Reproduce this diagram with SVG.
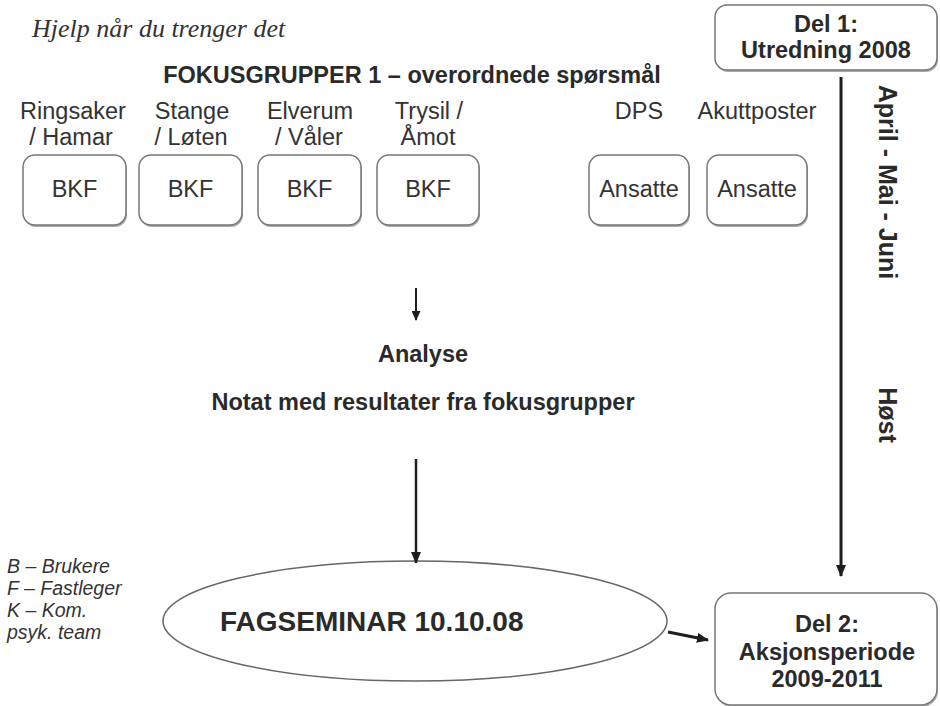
<svg xmlns="http://www.w3.org/2000/svg" width="940" height="706" viewBox="0 0 940 706">
<style>
  text { font-family: "Liberation Sans", Arial, sans-serif; fill: #2a2a2a; }
  .b { font-weight: bold; }
  .lbl { font-size: 23.5px; text-anchor: middle; fill: #333; }
  .hd { font-size: 23.5px; font-weight: bold; text-anchor: middle; }
  .box { fill: #fff; stroke: #777; stroke-width: 1.5; }
  .sh { fill: #aaa; }
  .leg { font-size: 19.5px; font-style: italic; fill: #333; }
  .con { stroke: #1e1e1e; fill: none; }
</style>
<defs>
  <marker id="ah" markerUnits="userSpaceOnUse" markerWidth="12" markerHeight="10" refX="11" refY="5" orient="auto">
    <path d="M0,0 L12,5 L0,10 z" fill="#1e1e1e"/>
  </marker>
  <marker id="ahs" markerUnits="userSpaceOnUse" markerWidth="10" markerHeight="9" refX="9" refY="4.5" orient="auto">
    <path d="M0,0 L10,4.5 L0,9 z" fill="#1e1e1e"/>
  </marker>
</defs>
<rect width="940" height="706" fill="#fff"/>

<g id="title">
  <text x="32" y="37" style="font-family:'Liberation Serif','Times New Roman',serif;font-style:italic;font-size:26px;fill:#333">Hjelp når du trenger det</text>
</g>
<g id="heading">
  <text class="b" x="412" y="83" style="font-size:23.5px;text-anchor:middle">FOKUSGRUPPER 1 – overordnede spørsmål</text>
</g>

<g id="labels">
  <text class="lbl" x="73" y="119">Ringsaker</text>
  <text class="lbl" x="71" y="145">/ Hamar</text>
  <text class="lbl" x="192" y="119">Stange</text>
  <text class="lbl" x="191" y="145">/ Løten</text>
  <text class="lbl" x="310" y="119">Elverum</text>
  <text class="lbl" x="309" y="145">/ Våler</text>
  <text class="lbl" x="429" y="119">Trysil /</text>
  <text class="lbl" x="428" y="145">Åmot</text>
  <text class="lbl" x="639" y="119">DPS</text>
  <text class="lbl" x="757" y="119">Akuttposter</text>
</g>

<g id="bkf1">
  <rect class="sh" x="24" y="157" width="103" height="70" rx="12"/>
  <rect class="box" x="23" y="155" width="103" height="70" rx="12"/>
  <text class="lbl" x="74.5" y="197">BKF</text>
</g>
<g id="bkf2">
  <rect class="sh" x="140" y="157" width="103" height="70" rx="12"/>
  <rect class="box" x="139" y="155" width="103" height="70" rx="12"/>
  <text class="lbl" x="190.5" y="197">BKF</text>
</g>
<g id="bkf3">
  <rect class="sh" x="259" y="157" width="103" height="70" rx="12"/>
  <rect class="box" x="258" y="155" width="103" height="70" rx="12"/>
  <text class="lbl" x="309.5" y="197">BKF</text>
</g>
<g id="bkf4">
  <rect class="sh" x="378" y="157" width="102" height="70" rx="12"/>
  <rect class="box" x="377" y="155" width="102" height="70" rx="12"/>
  <text class="lbl" x="428" y="197">BKF</text>
</g>
<g id="dps">
  <rect class="sh" x="590" y="157" width="100" height="70" rx="12"/>
  <rect class="box" x="589" y="155" width="100" height="70" rx="12"/>
  <text class="lbl" x="639" y="197">Ansatte</text>
</g>
<g id="akutt">
  <rect class="sh" x="708" y="157" width="100" height="70" rx="12"/>
  <rect class="box" x="707" y="155" width="100" height="70" rx="12"/>
  <text class="lbl" x="757" y="197">Ansatte</text>
</g>

<g id="del1">
  <rect class="sh" x="716" y="7" width="222" height="65" rx="12"/>
  <rect class="box" x="715" y="5" width="222" height="65" rx="12"/>
  <text class="hd" x="826" y="32">Del 1:</text>
  <text class="hd" x="826" y="58">Utredning 2008</text>
</g>

<g id="timeline-labels">
  <text class="b" transform="translate(879,182) rotate(90)" style="font-size:25px;text-anchor:middle">April - Mai - Juni</text>
  <text class="b" transform="translate(879,415) rotate(90)" style="font-size:25px;text-anchor:middle">Høst</text>
</g>

<g id="analyse">
  <text class="hd" x="423" y="362">Analyse</text>
  <text class="hd" x="423" y="410">Notat med resultater fra fokusgrupper</text>
</g>

<g id="fagseminar">
  <ellipse cx="415" cy="621" rx="252" ry="60" fill="#fff" stroke="#666" stroke-width="1.5"/>
  <text class="b" x="220" y="631" style="font-size:28px">FAGSEMINAR 10.10.08</text>
</g>

<g id="legend">
  <text class="leg" x="7" y="573">B – Brukere</text>
  <text class="leg" x="7" y="595">F – Fastleger</text>
  <text class="leg" x="7" y="617">K – Kom.</text>
  <text class="leg" x="7" y="639">psyk. team</text>
</g>

<g id="del2">
  <rect class="sh" x="716" y="595" width="222" height="112" rx="16"/>
  <rect class="box" x="715" y="593" width="222" height="112" rx="16"/>
  <text class="hd" x="827" y="632">Del 2:</text>
  <text class="hd" x="827" y="660">Aksjonsperiode</text>
  <text class="hd" x="827" y="687">2009-2011</text>
</g>

<g id="connectors">
  <line class="con" x1="841" y1="77" x2="841" y2="576" stroke-width="3" marker-end="url(#ah)"/>
  <line class="con" x1="416" y1="288" x2="416" y2="320" stroke-width="2" marker-end="url(#ahs)"/>
  <line class="con" x1="416" y1="459" x2="416" y2="563" stroke-width="2.5" marker-end="url(#ah)"/>
  <line class="con" x1="668" y1="632" x2="708" y2="640" stroke-width="3" marker-end="url(#ah)"/>
</g>
</svg>
